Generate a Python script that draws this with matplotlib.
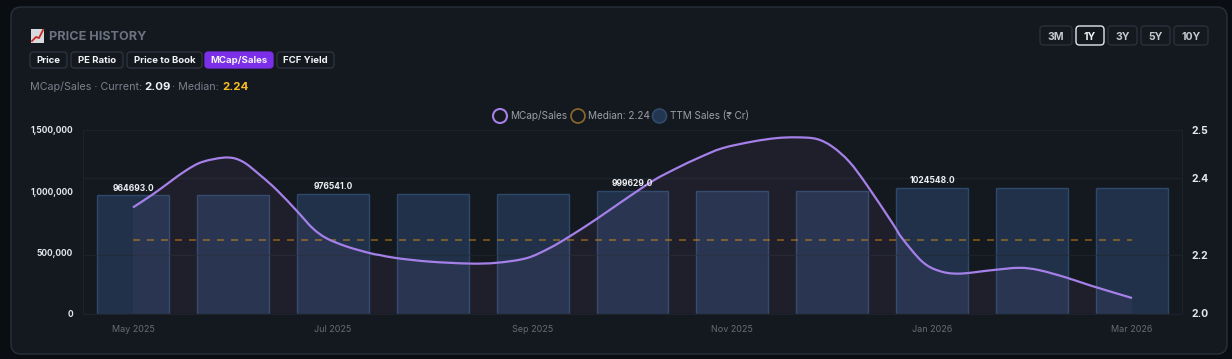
import matplotlib
matplotlib.use('Agg')
import matplotlib.pyplot as plt
from matplotlib.patches import FancyBboxPatch, Circle, Rectangle, PathPatch
from matplotlib.path import Path

plt.rcParams['font.family'] = ['Inter', 'DejaVu Sans']

# Monthly bars
month_pos = [0, 1, 2, 3, 4, 5, 6, 7, 8, 9, 10]
ttm_sales = [964693, 964693, 976541, 976541, 976541, 999629, 999629, 999629, 1024548, 1024548, 1024548]
labelled_bars = [0, 2, 5, 8]

# Ratio line (x in months from May 2025)
ratio_x = [0.00, 0.20, 0.37, 0.54, 0.70, 0.94, 1.10, 1.27, 1.44, 1.64, 1.80, 1.94, 2.14, 2.37, 2.47,
           2.64, 2.97, 3.37, 3.64, 3.94, 4.17, 4.37, 4.64, 4.87, 5.20, 5.44, 5.67, 5.90, 6.20,
           6.44, 6.64, 6.84, 7.00, 7.17, 7.34, 7.60, 7.70, 7.90, 8.07, 8.27, 8.60, 8.87, 9.07,
           9.34, 9.60, 10.00]
ratio_y = [2.324, 2.358, 2.390, 2.421, 2.442, 2.453, 2.442, 2.408, 2.369, 2.315, 2.270, 2.244, 2.223, 2.206, 2.201,
           2.193, 2.184, 2.179, 2.181, 2.193, 2.219, 2.249, 2.294, 2.335, 2.392, 2.425, 2.453, 2.477, 2.494,
           2.503, 2.505, 2.501, 2.481, 2.442, 2.384, 2.284, 2.244, 2.184, 2.160, 2.153, 2.162, 2.168, 2.162,
           2.143, 2.121, 2.090]
median = 2.24

x_ticks = [0, 2, 4, 6, 8, 10]
x_labels = ['May 2025', 'Jul 2025', 'Sep 2025', 'Nov 2025', 'Jan 2026', 'Mar 2026']
left_ticks = [0, 500000, 1000000, 1500000]
right_ticks = [2.05, 2.2, 2.4, 2.524]
right_labels = ['2.0', '2.2', '2.4', '2.5']

page_bg = '#0a0d12'
card_bg = '#141920'
card_edge = '#2a303a'
purple = '#a580e8'

W, H = 1232, 359
fig = plt.figure(figsize=(W / 100, H / 100), dpi=100, facecolor=page_bg)


def px(size):
    return size * 0.72


# Card and controls are drawn in pixel coordinates on a background axes
ui = fig.add_axes([0, 0, 1, 1], zorder=0)
ui.set_xlim(0, W)
ui.set_ylim(H, 0)
ui.axis('off')


def rounded(x0, y0, x1, y1, r, fc, ec, lw=1.0):
    ui.add_patch(FancyBboxPatch((x0 + r, y0 + r), x1 - x0 - 2 * r, y1 - y0 - 2 * r,
                                boxstyle=f'round,pad={r},rounding_size={r}',
                                fc=fc, ec=ec, lw=lw))


rounded(11, 7, 1227, 354, 10, card_bg, card_edge)

# chart icon
ui.add_patch(Rectangle((31, 28.5), 13, 14, fc='#d9dadd', ec='none'))
ui.plot([32, 36, 39, 43], [41, 37, 38, 30], color='#c62828', lw=1.3)
ui.text(49, 36.5, 'PRICE HISTORY', color='#6b7280', fontsize=px(12.6), fontweight='bold', va='center')

tabs = [('Price', 30, 67), ('PE Ratio', 71, 123), ('Price to Book', 127, 202),
        ('MCap/Sales', 205, 273), ('FCF Yield', 277, 334)]
for name, x0, x1 in tabs:
    active = name == 'MCap/Sales'
    rounded(x0, 52, x1, 68, 3.5, '#7c2fe8' if active else card_bg, '#7c2fe8' if active else '#2f3540', 0.9)
    ui.text((x0 + x1) / 2, 60.5, name, color='#f2f3f5', fontsize=px(9.6), fontweight='bold', ha='center', va='center')

ranges = [('3M', 1040, 1072), ('1Y', 1076, 1104), ('3Y', 1108, 1137), ('5Y', 1141, 1170), ('10Y', 1174, 1208)]
for name, x0, x1 in ranges:
    active = name == '1Y'
    rounded(x0, 26, x1, 45, 3.5, card_bg, '#e5e7eb' if active else '#2a303a', 1.0)
    ui.text((x0 + x1) / 2, 36.5, name, color='#f2f3f5' if active else '#c4c8cf',
            fontsize=px(10.5), fontweight='bold', ha='center', va='center')

ui.text(30, 87, 'MCap/Sales · Current:', color='#7b818c', fontsize=px(10.7), va='center')
ui.text(144, 87, '2.09', color='#eef0f3', fontsize=px(11.5), fontweight='bold', va='center')
ui.text(172, 87, '· Median:', color='#7b818c', fontsize=px(10.7), va='center')
ui.text(222, 87, '2.24', color='#fbbf24', fontsize=px(11.5), fontweight='bold', va='center')

# legend
ui.add_patch(Circle((500, 116), 7, fc=card_bg, ec=purple, lw=1.5))
ui.text(510, 116, 'MCap/Sales', color='#9a9ea6', fontsize=px(10), va='center')
ui.add_patch(Circle((578, 116), 7, fc=card_bg, ec='#8a6a28', lw=1.2))
ui.text(588, 116, 'Median: 2.24', color='#9a9ea6', fontsize=px(10), va='center')
ui.add_patch(Circle((659.5, 116), 7, fc='#233650', ec='#304a6c', lw=1.2))
ui.text(670, 116, 'TTM Sales (₹ Cr)', color='#9a9ea6', fontsize=px(10), va='center')

# Chart
ax = fig.add_axes([83 / W, (H - 313.5) / H, 1099 / W, 183.5 / H], zorder=1)
ax.patch.set_alpha(0)
ax.bar(month_pos, ttm_sales, width=0.72, facecolor=(0.24, 0.42, 0.66, 0.3),
       edgecolor=(0.25, 0.42, 0.64, 0.5), linewidth=1)
ax.set_xlim(-0.5, 10.5)
ax.set_ylim(0, 1500000)
ax.set_yticks(left_ticks)
ax.set_yticklabels([f'{t:,}' for t in left_ticks])
ax.set_xticks(x_ticks)
ax.set_xticklabels(x_labels)
ax.tick_params(axis='y', length=0, pad=7.2, labelsize=px(8.4), labelcolor='#e5e7eb')
ax.tick_params(axis='x', length=0, pad=8.5, labelsize=px(9), labelcolor='#666c76')
for lab in ax.get_yticklabels():
    lab.set_fontweight('bold')

ax2 = ax.twinx()
ax2.set_ylim(right_ticks[0], right_ticks[-1])
ax2.set_yticks(right_ticks)
ax2.set_yticklabels(right_labels, fontweight='bold')
ax2.tick_params(axis='y', length=0, pad=7.2, labelsize=px(10.5), labelcolor='#e5e7eb')
ax2.grid(axis='y', color='#232933', lw=0.9, alpha=0.6)
ax2.set_axisbelow(True)


def smooth_verts(xs, ys):
    # Catmull-Rom through the read points, written as cubic bezier segments
    verts = [(xs[0], ys[0])]
    n = len(xs)
    for i in range(n - 1):
        a, b = max(i - 1, 0), min(i + 2, n - 1)
        verts.append((xs[i] + (xs[i + 1] - xs[a]) / 6, ys[i] + (ys[i + 1] - ys[a]) / 6))
        verts.append((xs[i + 1] - (xs[b] - xs[i]) / 6, ys[i + 1] - (ys[b] - ys[i]) / 6))
        verts.append((xs[i + 1], ys[i + 1]))
    return verts


curve = smooth_verts(ratio_x, ratio_y)
curve_codes = [Path.MOVETO] + [Path.CURVE4] * (len(curve) - 1)
base = right_ticks[0]
area = Path(curve + [(ratio_x[-1], base), (ratio_x[0], base), curve[0]],
            curve_codes + [Path.LINETO, Path.LINETO, Path.CLOSEPOLY])
ax2.add_patch(PathPatch(area, fc='#9a70b0', ec='none', alpha=0.08))
ax2.plot([month_pos[0], month_pos[-1]], [median, median], color='#f59e0b', alpha=0.42, lw=1.4,
         dashes=(3.6, 3.6))
ax2.add_patch(PathPatch(Path(curve, curve_codes), fc='none', ec=purple, lw=1.6, capstyle='butt', zorder=4))

for i in labelled_bars:
    ax2.annotate(f'{ttm_sales[i]:.1f}', xy=(month_pos[i], ttm_sales[i]), xycoords=ax.transData,
                 xytext=(0, 2), textcoords='offset points', ha='center', va='bottom',
                 color='#eceef1', fontsize=px(8.5), fontweight='bold', zorder=6)

for a in (ax, ax2):
    for side, spine in a.spines.items():
        spine.set_color('#1d222b')
        spine.set_linewidth(0.8)
    a.spines['top'].set_visible(False)

fig.savefig('out.png', dpi=100, facecolor=page_bg)
